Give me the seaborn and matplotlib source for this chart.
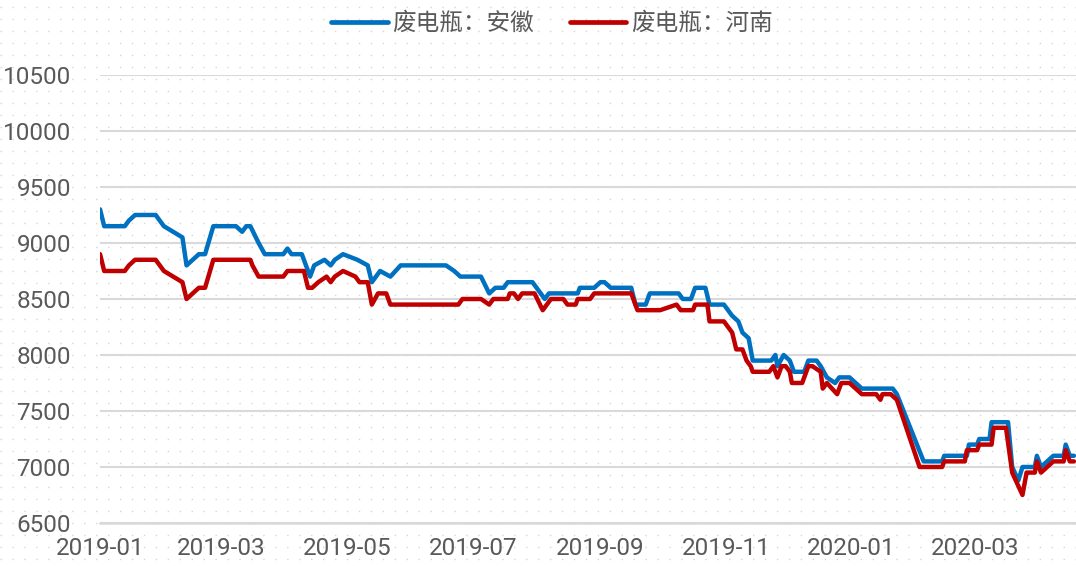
import numpy as np
import pandas as pd
import matplotlib
matplotlib.use("Agg")
import matplotlib.pyplot as plt
import matplotlib.dates as mdates
from matplotlib.lines import Line2D
from matplotlib import font_manager
import seaborn as sns

# 废电瓶：安徽 (blue)
anhui_dates = [
    "2019-01-01", "2019-01-03", "2019-01-13", "2019-01-15", "2019-01-18", "2019-01-28",
    "2019-01-30", "2019-02-01", "2019-02-10", "2019-02-12", "2019-02-15", "2019-02-18",
    "2019-02-21", "2019-02-25", "2019-03-08", "2019-03-11", "2019-03-13", "2019-03-15",
    "2019-03-19", "2019-03-22", "2019-03-31", "2019-04-02", "2019-04-04", "2019-04-09",
    "2019-04-13", "2019-04-15", "2019-04-20", "2019-04-23", "2019-04-25", "2019-04-29",
    "2019-05-06", "2019-05-11", "2019-05-13", "2019-05-17", "2019-05-22", "2019-05-27",
    "2019-06-18", "2019-06-22", "2019-06-25", "2019-07-05", "2019-07-09", "2019-07-12",
    "2019-07-16", "2019-07-18", "2019-07-30", "2019-08-05", "2019-08-07", "2019-08-21",
    "2019-08-22", "2019-08-29", "2019-09-01", "2019-09-03", "2019-09-06", "2019-09-16",
    "2019-09-18", "2019-09-23", "2019-09-25", "2019-10-09", "2019-10-11", "2019-10-15",
    "2019-10-17", "2019-10-22", "2019-10-24", "2019-10-31", "2019-11-04", "2019-11-07",
    "2019-11-09", "2019-11-12", "2019-11-14", "2019-11-23", "2019-11-25", "2019-11-26",
    "2019-11-29", "2019-12-02", "2019-12-04", "2019-12-09", "2019-12-11", "2019-12-15",
    "2019-12-17", "2019-12-20", "2019-12-24", "2019-12-26", "2019-12-31", "2020-01-06",
    "2020-01-21", "2020-01-23", "2020-02-05", "2020-02-14", "2020-02-15", "2020-02-26",
    "2020-02-27", "2020-03-02", "2020-03-03", "2020-03-08", "2020-03-09", "2020-03-17",
    "2020-03-19", "2020-03-22", "2020-03-24", "2020-03-30", "2020-03-31", "2020-04-02",
    "2020-04-05", "2020-04-08", "2020-04-13", "2020-04-14", "2020-04-16", "2020-04-18",
]
anhui_values = [
    9300, 9150, 9150, 9200, 9250, 9250,
    9200, 9150, 9050, 8800, 8850, 8900,
    8900, 9150, 9150, 9100, 9150, 9150,
    9000, 8900, 8900, 8950, 8900, 8900,
    8700, 8800, 8850, 8800, 8850, 8900,
    8850, 8800, 8650, 8750, 8700, 8800,
    8800, 8750, 8700, 8700, 8550, 8600,
    8600, 8650, 8650, 8500, 8550, 8550,
    8600, 8600, 8650, 8650, 8600, 8600,
    8450, 8450, 8550, 8550, 8500, 8500,
    8600, 8600, 8450, 8450, 8350, 8300,
    8200, 8150, 7950, 7950, 8000, 7900,
    8000, 7950, 7850, 7850, 7950, 7950,
    7900, 7800, 7750, 7800, 7800, 7700,
    7700, 7650, 7050, 7050, 7100, 7100,
    7200, 7200, 7250, 7250, 7400, 7400,
    7000, 6880, 7000, 7000, 7100, 7000,
    7050, 7100, 7100, 7200, 7100, 7100,
]

# 废电瓶：河南 (red)
henan_dates = [
    "2019-01-01", "2019-01-03", "2019-01-13", "2019-01-15", "2019-01-18", "2019-01-28",
    "2019-01-30", "2019-02-01", "2019-02-10", "2019-02-12", "2019-02-15", "2019-02-18",
    "2019-02-21", "2019-02-25", "2019-03-15", "2019-03-16", "2019-03-19", "2019-03-31",
    "2019-04-02", "2019-04-10", "2019-04-12", "2019-04-14", "2019-04-17", "2019-04-21",
    "2019-04-23", "2019-04-25", "2019-04-29", "2019-05-05", "2019-05-07", "2019-05-11",
    "2019-05-13", "2019-05-16", "2019-05-20", "2019-05-22", "2019-06-24", "2019-06-26",
    "2019-07-05", "2019-07-09", "2019-07-11", "2019-07-18", "2019-07-19", "2019-07-21",
    "2019-07-23", "2019-07-25", "2019-07-31", "2019-08-04", "2019-08-08", "2019-08-14",
    "2019-08-16", "2019-08-20", "2019-08-21", "2019-08-27", "2019-08-29", "2019-09-16",
    "2019-09-19", "2019-09-30", "2019-10-08", "2019-10-10", "2019-10-16", "2019-10-17",
    "2019-10-23", "2019-10-24", "2019-10-31", "2019-11-02", "2019-11-04", "2019-11-06",
    "2019-11-09", "2019-11-11", "2019-11-13", "2019-11-14", "2019-11-22", "2019-11-24",
    "2019-11-26", "2019-11-28", "2019-11-30", "2019-12-02", "2019-12-03", "2019-12-08",
    "2019-12-11", "2019-12-13", "2019-12-17", "2019-12-18", "2019-12-20", "2019-12-25",
    "2019-12-27", "2019-12-31", "2020-01-03", "2020-01-06", "2020-01-13", "2020-01-15",
    "2020-01-16", "2020-01-20", "2020-01-23", "2020-02-03", "2020-02-14", "2020-02-15",
    "2020-02-25", "2020-02-26", "2020-03-02", "2020-03-03", "2020-03-09", "2020-03-10",
    "2020-03-16", "2020-03-19", "2020-03-24", "2020-03-26", "2020-03-30", "2020-03-31",
    "2020-04-02", "2020-04-08", "2020-04-13", "2020-04-14", "2020-04-16", "2020-04-18",
]
henan_values = [
    8900, 8750, 8750, 8800, 8850, 8850,
    8800, 8750, 8650, 8500, 8550, 8600,
    8600, 8850, 8850, 8800, 8700, 8700,
    8750, 8750, 8600, 8600, 8650, 8700,
    8650, 8700, 8750, 8700, 8650, 8650,
    8450, 8550, 8550, 8450, 8450, 8500,
    8500, 8450, 8500, 8500, 8550, 8550,
    8500, 8550, 8550, 8400, 8500, 8500,
    8450, 8450, 8500, 8500, 8550, 8550,
    8400, 8400, 8450, 8400, 8400, 8450,
    8450, 8300, 8300, 8250, 8200, 8050,
    8050, 7950, 7900, 7850, 7850, 7900,
    7800, 7900, 7900, 7850, 7750, 7750,
    7900, 7900, 7850, 7700, 7750, 7650,
    7750, 7750, 7700, 7650, 7650, 7600,
    7650, 7650, 7600, 7000, 7000, 7050,
    7050, 7150, 7150, 7200, 7200, 7350,
    7350, 6950, 6750, 6950, 6950, 7050,
    6950, 7050, 7050, 7150, 7050, 7050,
]

series_names = ["废电瓶：安徽", "废电瓶：河南"]
series_colors = ["#0070C0", "#C00000"]
tick_months = ["2019-01", "2019-03", "2019-05", "2019-07", "2019-09", "2019-11", "2020-01", "2020-03"]
y_ticks = list(range(6500, 10501, 500))

df = pd.concat([
    pd.DataFrame({"date": pd.to_datetime(anhui_dates), "value": anhui_values, "series": series_names[0]}),
    pd.DataFrame({"date": pd.to_datetime(henan_dates), "value": henan_values, "series": series_names[1]}),
])

sns.set_style("white")
installed = {f.name for f in font_manager.fontManager.ttflist}
tick_font = "Liberation Sans Narrow" if "Liberation Sans Narrow" in installed else "Roboto"
plt.rcParams["font.family"] = [tick_font, "Noto Sans CJK SC", "DejaVu Sans"]

fig = plt.figure(figsize=(10.76, 5.66), dpi=100)

# dotted background texture
bg = fig.add_axes([0, 0, 1, 1], zorder=0)
bg.set_xlim(0, 1)
bg.set_ylim(0, 1)
bg.axis("off")
for yy in np.arange(0.012, 1, 12 / 566):
    bg.axhline(yy, color="#d6d6d6", lw=1.0, linestyle=(0, (1, 7.6)))

ax = fig.add_axes([0.093, 0.076, 0.907, 0.7915], zorder=1)
ax.set_facecolor("none")

sns.lineplot(data=df, x="date", y="value", hue="series", palette=series_colors,
             linewidth=3.2, ax=ax, legend=False, sort=True, estimator=None)

ax.set_ylim(6500, 10500)
ax.set_yticks(y_ticks)
ax.set_xlim(pd.Timestamp("2019-01-01"), pd.Timestamp("2020-04-19"))
ax.set_xticks(pd.to_datetime(tick_months))
ax.xaxis.set_major_formatter(mdates.DateFormatter("%Y-%m"))

ax.grid(axis="y", color="#d9d9d9", linewidth=1.5)
ax.set_axisbelow(True)
for side in ["top", "right", "left"]:
    ax.spines[side].set_visible(False)
ax.spines["bottom"].set_color("#d9d9d9")
ax.spines["bottom"].set_linewidth(1.8)

ax.tick_params(axis="y", length=0, pad=21, labelsize=17.5, labelcolor="#595959")
ax.tick_params(axis="x", length=6, width=1.2, color="#d9d9d9", direction="out", pad=4,
               labelsize=17.5, labelcolor="#595959")
ax.set_xlabel("")
ax.set_ylabel("")

handles = [Line2D([0], [0], color=c, lw=3.4) for c in series_colors]
fig.legend(handles, series_names, loc="center", bbox_to_anchor=(0.513, 0.958), ncol=2,
           frameon=False, handlelength=2.4, handletextpad=0.2, columnspacing=1.5,
           prop={"family": ["Noto Sans CJK SC"], "size": 17}, labelcolor="#595959")

fig.savefig("out.png", dpi=100)
